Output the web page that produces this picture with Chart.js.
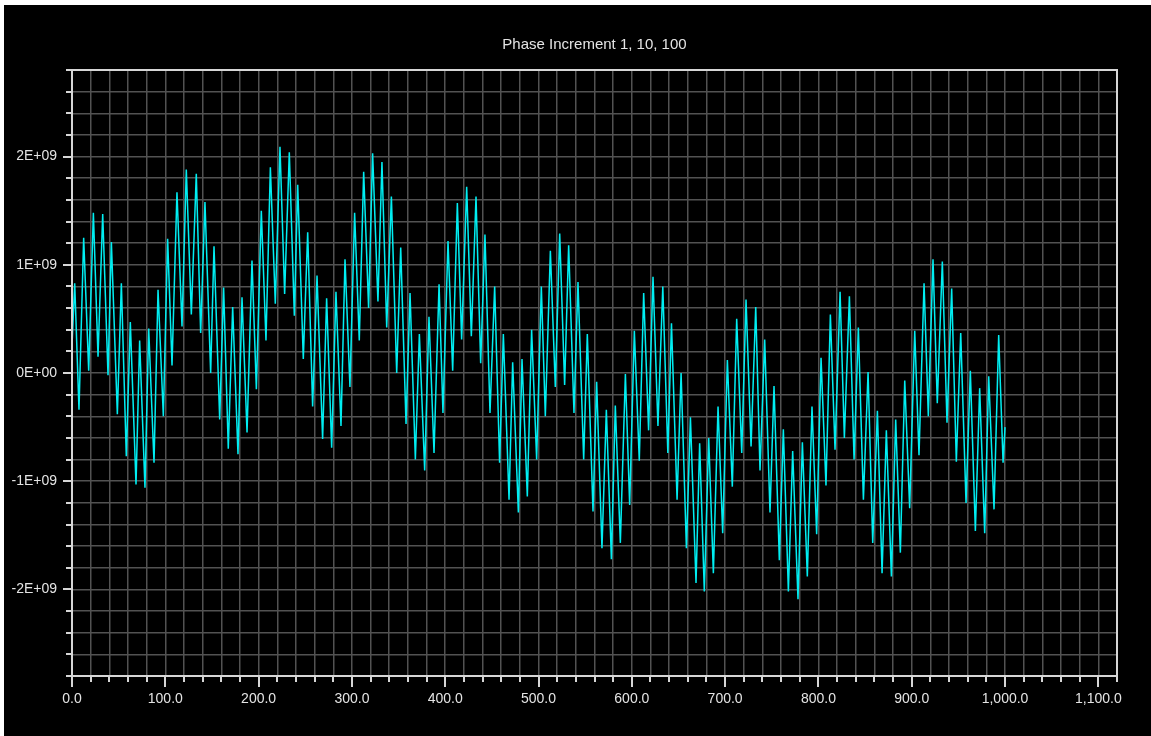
<!DOCTYPE html>
<html>
<head>
<meta charset="utf-8">
<title>Phase Increment 1, 10, 100</title>
<script src="https://cdn.jsdelivr.net/npm/chart.js@4.4.1/dist/chart.umd.min.js"></script>
<style>
  html, body { margin: 0; padding: 0; background: #ffffff; }
  #frame { position: absolute; left: 4px; top: 5px; width: 1147px; height: 731px; background: #000000; }
  canvas { display: block; }
</style>
</head>
<body>
<div id="frame"><canvas id="chart" width="1147" height="731"></canvas></div>
<script>
// ---- data -------------------------------------------------------------
const chartTitle = 'Phase Increment 1, 10, 100';
const valueUnit = 1e9;

// sample positions along the x axis
const sampleX = [
  0, 2.9, 7.5, 12.5, 17.9, 22.9, 27.9, 32.9, 38.6, 42.2, 48.6, 52.9, 58.2, 62.5, 68.6, 72.5, 78.2, 82.2, 87.9, 92.2,
  97.9, 102.5, 107.2, 112.5, 117.9, 122.5, 127.9, 133.2, 137.9, 142.5, 148.6, 152.2, 158.3, 162.5, 167.5,
  172.2, 177.9, 182.2, 187.6, 192.9, 197.6, 202.9, 207.9, 212.6, 217.9, 222.9, 227.9, 232.9, 238.3, 241.9, 247.9,
  252.6, 257.9, 262.6, 268.6, 272.9, 278.3, 282.9, 288.3, 292.6, 297.9, 302.9, 307.9, 312.6, 317.9, 322.2, 327.9, 332.2,
  337.3, 342.3, 348.0, 352.3, 358.0, 362.3, 368.0, 372.3, 378.0, 382.6, 388.0, 393.4, 397.6, 403.0, 408.0, 413.0,
  417.6, 423.0, 428.0, 433.0, 438.0, 442.6, 448.0, 453.0, 458.3, 462.3, 468.4, 472.3, 478.4, 482.3, 488.0, 492.6, 498.0, 503.0,
  507.3, 512.7, 518.0, 522.7, 528.0, 532.3, 538.0, 542.3, 548.4, 552.3, 558.4, 562.3, 568.0, 572.7, 578.1, 582.3,
  587.7, 593.1, 597.7, 602.7, 608.0, 612.7, 618.0, 622.7, 628.0, 633.2, 638.6, 642.5, 648.5, 652.8, 658.5, 662.8, 668.8, 672.7,
  677.7, 682.4, 687.4, 692.4, 697.4, 702.4, 707.7, 712.4, 717.8, 722.4, 727.8, 732.8, 737.4, 742.4, 748.1, 752.4,
  758.1, 762.4, 767.8, 772.4, 778.1, 782.8, 788.1, 793.1, 798.1, 802.8, 808.1, 812.8, 817.8, 823.2, 827.8, 833.2, 838.2, 842.8,
  848.2, 853.2, 858.2, 863.2, 868.2, 872.8, 878.2, 882.8, 887.8, 892.5, 897.8, 903.2, 907.8, 913.2, 917.8, 922.8,
  927.4, 932.8, 937.8, 942.8, 947.8, 952.5, 958.2, 962.8, 968.2, 972.8, 978.2, 982.5, 988.2, 993.2, 997.9, 1000
];

// sample values, in units of 1E+09
const sampleValue = [
  0.25, 0.83, -0.34, 1.25, 0.02, 1.48, 0.15, 1.47, -0.02, 1.21, -0.38, 0.83, -0.77, 0.47, -1.03, 0.30, -1.06, 0.41, -0.83, 0.77,
  -0.40, 1.24, 0.07, 1.67, 0.43, 1.88, 0.54, 1.84, 0.37, 1.58, 0.0, 1.17, -0.43, 0.79, -0.70,
  0.61, -0.75, 0.70, -0.55, 1.04, -0.15, 1.50, 0.30, 1.90, 0.64, 2.09, 0.73, 2.04, 0.53, 1.74, 0.13,
  1.30, -0.31, 0.90, -0.61, 0.69, -0.69, 0.75, -0.49, 1.05, -0.13, 1.48, 0.30, 1.86, 0.60, 2.03, 0.66, 1.95,
  0.42, 1.63, 0.0, 1.16, -0.47, 0.74, -0.80, 0.36, -0.90, 0.52, -0.74, 0.82, -0.37, 1.22, 0.02, 1.57,
  0.31, 1.72, 0.34, 1.63, 0.09, 1.28, -0.37, 0.80, -0.83, 0.36, -1.17, 0.10, -1.29, 0.13, -1.14, 0.40, -0.80, 0.80,
  -0.40, 1.13, -0.13, 1.29, -0.11, 1.18, -0.37, 0.84, -0.80, 0.36, -1.28, -0.08, -1.62, -0.34, -1.72, -0.30,
  -1.57, -0.01, -1.22, 0.39, -0.81, 0.74, -0.53, 0.89, -0.49, 0.80, -0.74, 0.46, -1.17, 0.0, -1.62, -0.41, -1.94, -0.65,
  -2.02, -0.60, -1.85, -0.31, -1.48, 0.12, -1.05, 0.50, -0.74, 0.68, -0.68, 0.61, -0.90, 0.31, -1.29, -0.12,
  -1.73, -0.52, -2.02, -0.72, -2.09, -0.64, -1.88, -0.31, -1.49, 0.14, -1.04, 0.54, -0.71, 0.75, -0.60, 0.71, -0.80, 0.42,
  -1.17, 0.01, -1.57, -0.35, -1.85, -0.53, -1.88, -0.43, -1.66, -0.07, -1.25, 0.39, -0.76, 0.83, -0.40, 1.05,
  -0.28, 1.03, -0.46, 0.78, -0.82, 0.37, -1.20, 0.02, -1.46, -0.14, -1.48, -0.03, -1.26, 0.35, -0.83, -0.50
];

// labelled axis ticks
const xTickValues = [0, 100, 200, 300, 400, 500, 600, 700, 800, 900, 1000, 1100];
const xTickLabels = ['0.0', '100.0', '200.0', '300.0', '400.0', '500.0', '600.0', '700.0', '800.0', '900.0', '1,000.0', '1,100.0'];
const yTickValues = [-2e9, -1e9, 0, 1e9, 2e9];
const yTickLabels = ['-2E+09', '-1E+09', '0E+00', '1E+09', '2E+09'];

// ---- styling ----------------------------------------------------------
const TICK_FONT = { family: '"Liberation Sans", Arial, sans-serif', size: 14, weight: 'normal' };
const TITLE_FONT = '15px "Liberation Sans", Arial, sans-serif';
const TEXT_COLOR = '#e4e4e4';
const AXIS_COLOR = '#d6d6d6';
const GRID_COLOR = '#525252';
const LINE_COLOR = '#00eef2';

function labelFor(values, labels, v, tol) {
  const i = values.findIndex(t => Math.abs(t - v) < tol);
  return i >= 0 ? labels[i] : '';
}
function isMajor(values, v, tol) {
  return values.some(t => Math.abs(t - v) < tol);
}

// title centred over the plot area, frame and outward tick marks
const frameAndTicks = {
  id: 'frameAndTicks',
  afterDraw(chart) {
    const { ctx, chartArea: a, scales: { x, y } } = chart;
    ctx.save();
    ctx.fillStyle = TEXT_COLOR;
    ctx.font = TITLE_FONT;
    ctx.textAlign = 'center';
    ctx.textBaseline = 'middle';
    ctx.fillText(chartTitle, (a.left + a.right) / 2, 39.5);

    ctx.strokeStyle = AXIS_COLOR;
    ctx.lineWidth = 2;
    ctx.strokeRect(a.left, a.top, a.right - a.left, a.bottom - a.top);
    ctx.beginPath();
    x.ticks.forEach(t => {
      const px = Math.round(x.getPixelForValue(t.value));
      const len = isMajor(xTickValues, t.value, 1e-6) ? 11 : 6;
      ctx.moveTo(px, a.bottom);
      ctx.lineTo(px, a.bottom + len);
    });
    y.ticks.forEach(t => {
      const py = Math.round(y.getPixelForValue(t.value));
      const len = isMajor(yTickValues, t.value, 1e6) ? 9 : 6;
      ctx.moveTo(a.left, py);
      ctx.lineTo(a.left - len, py);
    });
    ctx.stroke();
    ctx.restore();
  }
};

const points = sampleX.map((x, i) => ({ x, y: sampleValue[i] * valueUnit }));

new Chart(document.getElementById('chart'), {
  type: 'line',
  data: {
    datasets: [{
      data: points,
      borderColor: LINE_COLOR,
      borderWidth: 1.5,
      pointRadius: 0,
      tension: 0,
      fill: false
    }]
  },
  options: {
    responsive: false,
    animation: false,
    devicePixelRatio: 1,
    layout: { padding: { left: 0, right: 34, top: 65, bottom: 0 } },
    plugins: {
      legend: { display: false },
      tooltip: { enabled: false },
      title: { display: false }
    },
    scales: {
      x: {
        type: 'linear',
        min: 0,
        max: 1120,
        afterFit(scale) { scale.height = 60; },
        border: { display: false },
        grid: { color: GRID_COLOR, lineWidth: 1.5, drawTicks: false },
        ticks: {
          stepSize: 20,
          autoSkip: false,
          maxRotation: 0,
          padding: 15,
          color: TEXT_COLOR,
          font: TICK_FONT,
          callback: v => labelFor(xTickValues, xTickLabels, v, 1e-6)
        }
      },
      y: {
        type: 'linear',
        min: -2.8e9,
        max: 2.8e9,
        afterFit(scale) { scale.width = 68; },
        border: { display: false },
        grid: { color: GRID_COLOR, lineWidth: 1.5, drawTicks: false },
        ticks: {
          stepSize: 2e8,
          autoSkip: false,
          padding: 15,
          color: TEXT_COLOR,
          font: TICK_FONT,
          callback: v => labelFor(yTickValues, yTickLabels, v, 1e6)
        }
      }
    }
  },
  plugins: [frameAndTicks]
});
</script>
</body>
</html>
